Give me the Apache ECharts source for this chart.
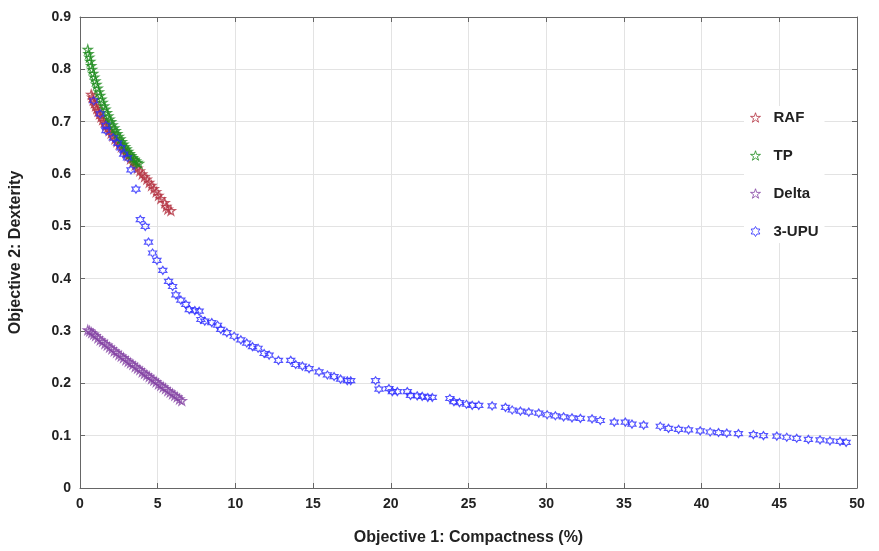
<!DOCTYPE html>
<html>
<head>
<meta charset="utf-8">
<script src="https://cdn.jsdelivr.net/npm/echarts@6/dist/echarts.min.js"></script>
<style>
  html, body { margin: 0; padding: 0; background: #fff; }
  #main { width: 879px; height: 551px; }
</style>
</head>
<body>
<div id="main"></div>
<script>
// data: [compactness %, dexterity]
var rafData = [
  [0.72, 0.752], [0.78, 0.747], [0.85, 0.741], [0.92, 0.736], [1.00, 0.730],
  [1.08, 0.725], [1.16, 0.720], [1.25, 0.715], [1.35, 0.709], [1.45, 0.704],
  [1.55, 0.699], [1.66, 0.693], [1.77, 0.688], [1.88, 0.683], [2.00, 0.678],
  [2.12, 0.673], [2.25, 0.667], [2.38, 0.662], [2.52, 0.657], [2.66, 0.652],
  [2.80, 0.646], [2.95, 0.641], [3.10, 0.635], [3.25, 0.629], [3.40, 0.623],
  [3.55, 0.617], [3.70, 0.611], [3.85, 0.606], [4.00, 0.600], [4.15, 0.595],
  [4.30, 0.590], [4.45, 0.584], [4.60, 0.578], [4.75, 0.572], [4.90, 0.566],
  [5.05, 0.559], [5.20, 0.553], [5.45, 0.545], [5.55, 0.538], [5.65, 0.533],
  [5.85, 0.530]
];
var tpData = [
  [0.50, 0.838], [0.55, 0.830], [0.60, 0.823], [0.66, 0.815], [0.72, 0.807],
  [0.78, 0.800], [0.85, 0.792], [0.92, 0.785], [0.99, 0.778], [1.06, 0.771],
  [1.14, 0.764], [1.22, 0.757], [1.30, 0.750], [1.38, 0.743], [1.46, 0.737],
  [1.55, 0.730], [1.64, 0.724], [1.73, 0.717], [1.82, 0.711], [1.91, 0.705],
  [2.00, 0.700], [2.10, 0.694], [2.20, 0.688], [2.30, 0.683], [2.40, 0.677],
  [2.50, 0.672], [2.60, 0.667], [2.70, 0.662], [2.80, 0.657], [2.90, 0.652],
  [3.00, 0.648], [3.10, 0.643], [3.20, 0.639], [3.30, 0.635], [3.40, 0.631],
  [3.50, 0.628], [3.60, 0.625], [3.70, 0.622], [3.80, 0.620]
];
var deltaData = [
  [0.50, 0.302], [0.62, 0.300], [0.75, 0.297], [0.88, 0.294], [1.00, 0.291],
  [1.15, 0.287], [1.30, 0.283], [1.45, 0.280], [1.60, 0.276], [1.75, 0.273],
  [1.90, 0.269], [2.05, 0.266], [2.20, 0.262], [2.35, 0.259], [2.50, 0.255],
  [2.65, 0.252], [2.80, 0.249], [2.95, 0.245], [3.10, 0.242], [3.25, 0.239],
  [3.40, 0.236], [3.55, 0.232], [3.70, 0.229], [3.85, 0.226], [4.00, 0.222],
  [4.15, 0.219], [4.30, 0.216], [4.45, 0.213], [4.60, 0.209], [4.75, 0.206],
  [4.90, 0.203], [5.05, 0.199], [5.20, 0.196], [5.35, 0.193], [5.50, 0.190],
  [5.65, 0.186], [5.80, 0.183], [5.95, 0.180], [6.10, 0.177], [6.25, 0.174],
  [6.40, 0.170], [6.55, 0.167]
];
var upuData = [
  [0.88, 0.740], [1.30, 0.715], [1.67, 0.693], [1.67, 0.683], [2.14, 0.669],
  [2.42, 0.659], [2.63, 0.650], [2.81, 0.638], [3.06, 0.631], [3.28, 0.608],
  [3.60, 0.571], [3.88, 0.513], [4.20, 0.500], [4.41, 0.470], [4.67, 0.449],
  [4.95, 0.435], [5.33, 0.416], [5.70, 0.395], [5.96, 0.385], [6.17, 0.369],
  [6.49, 0.359], [6.81, 0.351], [7.03, 0.341], [7.39, 0.339], [7.67, 0.338],
  [7.78, 0.322], [8.03, 0.319], [8.48, 0.316], [8.85, 0.311], [9.06, 0.303],
  [9.45, 0.297], [9.92, 0.290], [10.35, 0.283], [10.73, 0.277], [11.10, 0.270],
  [11.46, 0.267], [11.85, 0.257], [12.17, 0.254], [12.77, 0.244], [13.56, 0.244],
  [13.88, 0.236], [14.31, 0.233], [14.74, 0.228], [15.38, 0.222], [15.92, 0.216],
  [16.35, 0.213], [16.77, 0.208], [17.20, 0.205], [17.42, 0.205], [19.02, 0.205],
  [19.24, 0.189], [19.88, 0.190], [20.10, 0.184], [20.42, 0.184], [21.06, 0.184],
  [21.27, 0.177], [21.70, 0.176], [22.02, 0.175], [22.38, 0.173], [22.67, 0.173],
  [23.80, 0.171], [24.06, 0.165], [24.42, 0.163], [24.87, 0.160], [25.24, 0.158],
  [25.66, 0.158], [26.52, 0.157], [27.38, 0.154], [27.81, 0.149], [28.34, 0.147],
  [28.88, 0.145], [29.52, 0.143], [30.06, 0.140], [30.59, 0.138], [31.12, 0.136],
  [31.66, 0.134], [32.20, 0.133], [32.95, 0.132], [33.48, 0.129], [34.38, 0.126],
  [35.09, 0.126], [35.52, 0.122], [36.27, 0.120], [37.34, 0.118], [37.87, 0.114],
  [38.52, 0.112], [39.16, 0.111], [39.91, 0.109], [40.55, 0.107], [41.09, 0.106],
  [41.62, 0.105], [42.37, 0.104], [43.33, 0.102], [43.98, 0.100], [44.84, 0.099],
  [45.48, 0.097], [46.12, 0.095], [46.87, 0.093], [47.62, 0.092], [48.26, 0.090],
  [48.91, 0.089], [49.30, 0.087]
];

var seriesNames = ['RAF', 'TP', 'Delta', '3-UPU'];
var seriesColors = ['#b3303e', '#1e8c1e', '#8444a4', '#2b2bff'];

var pentagram = 'path://M50 0 L61.2 34.6 L97.6 34.5 L68.1 55.9 L79.4 90.5 L50 69 L20.6 90.5 L31.9 55.9 L2.4 34.5 L38.8 34.6 Z';
var hexagram = 'path://M50 0 L64.4 25 L93.3 25 L78.9 50 L93.3 75 L64.4 75 L50 100 L35.6 75 L6.7 75 L21.1 50 L6.7 25 L35.6 25 Z';

var font = '"Liberation Sans", Arial, sans-serif';

function starSeries(name, data, color, symbol, size) {
  return {
    name: name,
    type: 'scatter',
    data: data,
    symbol: symbol,
    symbolSize: size,
    itemStyle: {
      color: 'rgba(255,255,255,0)',
      borderColor: color,
      borderWidth: 1.2
    },
    emphasis: { disabled: true }
  };
}

var chartDom = document.getElementById('main');
var myChart = echarts.init(chartDom);
var option;

option = {
  animation: false,
  backgroundColor: '#fff',
  grid: {
    left: 79,
    right: 22,
    top: 17,
    bottom: 62
  },
  legend: {
    orient: 'vertical',
    left: 744,
    top: 106,
    itemGap: 23,
    itemWidth: 10,
    itemHeight: 10,
    backgroundColor: '#fff',
    padding: [4, 6, 4, 6],
    data: seriesNames.map(function (n, i) {
      return {
        name: n,
        icon: i === 3 ? hexagram : pentagram,
        itemStyle: { color: 'rgba(255,255,255,0)', borderColor: seriesColors[i], borderWidth: 1 }
      };
    }),
    textStyle: {
      fontFamily: font,
      fontWeight: 'bold',
      fontSize: 15,
      color: '#222',
      padding: [0, 0, 0, 8]
    }
  },
  xAxis: [
    {
      type: 'value',
      min: 0,
      max: 50,
      interval: 5,
      name: 'Objective 1: Compactness (%)',
      nameLocation: 'center',
      nameGap: 42,
      nameTextStyle: { fontFamily: font, fontWeight: 'bold', fontSize: 16, color: '#222' },
      axisLine: { show: true, onZero: false, lineStyle: { color: '#666', width: 1 } },
      axisTick: { show: true, inside: true, length: 5, lineStyle: { color: '#666' } },
      axisLabel: { margin: 9, fontFamily: font, fontWeight: 'bold', fontSize: 14, color: '#222' },
      splitLine: { show: true, lineStyle: { color: '#e3e3e3', width: 1 } }
    },
    {
      type: 'value',
      position: 'top',
      min: 0,
      max: 50,
      interval: 5,
      axisLine: { show: true, onZero: false, lineStyle: { color: '#666', width: 1 } },
      axisTick: { show: true, inside: true, length: 5, lineStyle: { color: '#666' } },
      axisLabel: { show: false },
      splitLine: { show: false }
    }
  ],
  yAxis: [
    {
      type: 'value',
      min: 0,
      max: 0.9,
      interval: 0.1,
      name: 'Objective 2: Dexterity',
      nameLocation: 'center',
      nameGap: 56,
      nameTextStyle: { fontFamily: font, fontWeight: 'bold', fontSize: 16, color: '#222' },
      axisLine: { show: true, onZero: false, lineStyle: { color: '#666', width: 1 } },
      axisTick: { show: true, inside: true, length: 5, lineStyle: { color: '#666' } },
      axisLabel: {
        margin: 9,
        fontFamily: font,
        fontWeight: 'bold',
        fontSize: 14,
        color: '#222',
        formatter: function (v) { return v === 0 ? '0' : v.toFixed(1); }
      },
      splitLine: { show: true, lineStyle: { color: '#e3e3e3', width: 1 } }
    },
    {
      type: 'value',
      position: 'right',
      min: 0,
      max: 0.9,
      interval: 0.1,
      axisLine: { show: true, onZero: false, lineStyle: { color: '#666', width: 1 } },
      axisTick: { show: true, inside: true, length: 5, lineStyle: { color: '#666' } },
      axisLabel: { show: false },
      splitLine: { show: false }
    }
  ],
  series: [
    starSeries('RAF', rafData, seriesColors[0], pentagram, 9),
    starSeries('TP', tpData, seriesColors[1], pentagram, 9),
    starSeries('Delta', deltaData, seriesColors[2], pentagram, 9),
    starSeries('3-UPU', upuData, seriesColors[3], hexagram, 8)
  ]
};

option && myChart.setOption(option);
window.onresize = function () {
  myChart.resize();
};
</script>
</body>
</html>
